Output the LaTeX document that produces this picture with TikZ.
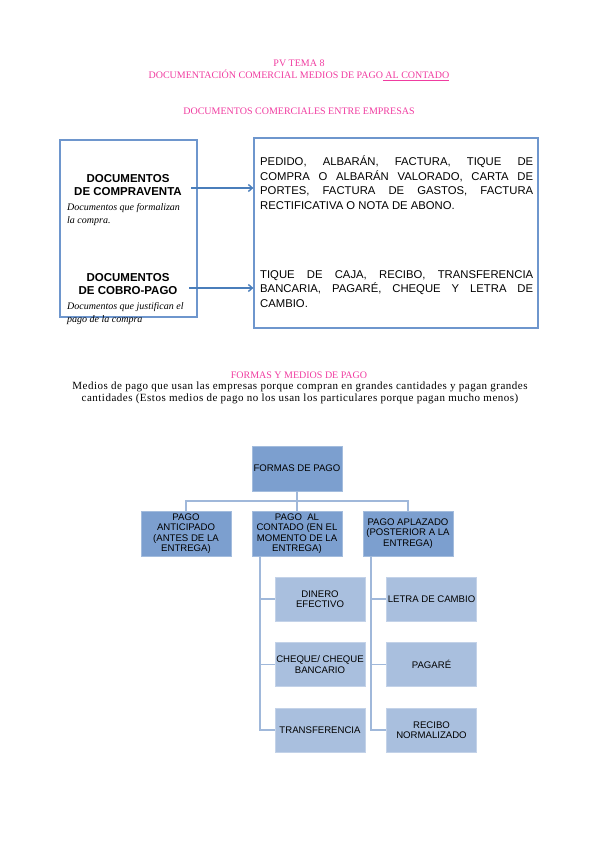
\documentclass[tikz,border=0pt]{standalone}
\usepackage{fontspec}
\setmainfont{Liberation Serif}
\setsansfont{Liberation Sans}
\usetikzlibrary{arrows.meta}
\definecolor{pinkt}{RGB}{240,60,160}
\definecolor{boxblue}{RGB}{110,150,205}
\definecolor{arrowblue}{RGB}{74,126,187}
\definecolor{midblue}{RGB}{124,159,207}
\definecolor{lightblue}{RGB}{169,191,222}
\definecolor{lineblue}{RGB}{160,184,218}
\tikzset{
  pinktxt/.style={text=pinkt, font=\fontsize{10}{12}\selectfont, inner sep=0pt},
  frame/.style={draw=boxblue, line width=1.2pt},
  bsans/.style={font=\fontsize{11.5}{13.5}\selectfont\sffamily\bfseries, align=center, inner sep=0pt},
  itnote/.style={font=\fontsize{10}{13}\selectfont\itshape, align=left, inner sep=0pt},
  rtext/.style={font=\fontsize{11.3}{14.5}\selectfont\sffamily, align=justify, text width=273pt, inner sep=0pt},
  arr/.style={draw=arrowblue, line width=1.4pt, -{Straight Barb[length=4pt,width=7pt]}},
  body/.style={font=\fontsize{11}{12}\selectfont\addfontfeature{LetterSpace=4.5}, align=center, inner sep=0pt},
  chart/.style={font=\fontsize{9.6}{10.3}\selectfont\sffamily, align=center, inner sep=0pt},
  topbox/.style={chart, fill=midblue, draw=midblue!70!white, line width=0.5pt, minimum width=90pt, minimum height=45pt},
  leaf/.style={chart, fill=lightblue, draw=lightblue!70!white, line width=0.5pt, minimum width=90pt, minimum height=44pt},
  tl/.style={draw=lineblue, line width=1.6pt},
}
\begin{document}
\begin{tikzpicture}[x=1pt,y=-1pt]
\useasboundingbox (0,0) rectangle (599,848);

% titles
\node[pinktxt] (t1) at (299,63) {PV TEMA 8};
\node[pinktxt] (t2) at (299,75) {DOCUMENTACIÓN COMERCIAL MEDIOS DE PAGO\underline{\ AL CONTADO}};
\node[pinktxt] (t3) at (299,111) {DOCUMENTOS COMERCIALES ENTRE EMPRESAS};

% boxes
\draw[frame] (60,140) rectangle (197,317);
\node[frame, inner sep=0pt, minimum width=284pt, minimum height=190pt] (rb) at (396,233) {};

\node[bsans] (dc1) at (128,185) {DOCUMENTOS\\DE COMPRAVENTA};
\node[itnote, anchor=north west] (n1) at (67,203) {Documentos que formalizan\\la compra.};
\node[bsans] (dc2) at (128,284) {DOCUMENTOS\\DE COBRO-PAGO};
\node[itnote, anchor=north west] (n2) at (67,302) {Documentos que justifican el\\pago de la compra};

\coordinate (a1) at (191,188);
\coordinate (a2) at (189,288);
\draw[arr] (a1) -- (a1 -| rb.west);
\draw[arr] (a2) -- (a2 -| rb.west);

\node[rtext, anchor=north west] (r1) at (260,156) {PEDIDO, ALBARÁN, FACTURA, TIQUE DE\linebreak COMPRA O ALBARÁN VALORADO, CARTA DE\linebreak PORTES, FACTURA DE GASTOS, FACTURA\linebreak RECTIFICATIVA O NOTA DE ABONO.};
\node[rtext, anchor=north west] (r2) at (260,270) {TIQUE DE CAJA, RECIBO, TRANSFERENCIA\linebreak BANCARIA, PAGARÉ, CHEQUE Y LETRA DE\linebreak CAMBIO.};

% section 2
\node[pinktxt] (t4) at (299,375) {FORMAS Y MEDIOS DE PAGO};
\node[body] (b1) at (300,393) {Medios de pago que usan las empresas porque compran en grandes cantidades y pagan grandes\\cantidades (Estos medios de pago no los usan los particulares porque pagan mucho menos)};

% chart
\node[topbox] (top) at (297,468.5) {FORMAS DE PAGO};
\node[topbox] (c1) at (186,533.5) {PAGO\\ANTICIPADO\\(ANTES DE LA\\ENTREGA)};
\node[topbox] (c2) at (297,533.5) {PAGO\ \ AL\\CONTADO (EN EL\\MOMENTO DE LA\\ENTREGA)};
\node[topbox] (c3) at (408,533.5) {PAGO APLAZADO\\(POSTERIOR A LA\\ENTREGA)};

\draw[tl] (top.south) -- ++(0,10) -| (c1.north);
\draw[tl] (top.south) -- ++(0,10) -| (c3.north);
\draw[tl] (top.south) -- (c2.north);

\node[leaf] (l11) at (320,599) {DINERO\\EFECTIVO};
\node[leaf] (l12) at (320,664.5) {CHEQUE/ CHEQUE\\BANCARIO};
\node[leaf] (l13) at (320,730) {TRANSFERENCIA};
\node[leaf] (l21) at (431.5,599) {LETRA DE CAMBIO};
\node[leaf] (l22) at (431.5,664.5) {PAGARÉ};
\node[leaf] (l23) at (431.5,730) {RECIBO\\NORMALIZADO};

\coordinate (v1) at ([xshift=8pt]c2.south west);
\coordinate (v2) at ([xshift=8pt]c3.south west);
\draw[tl] (v1) |- (l11.west);
\draw[tl] (v1) |- (l12.west);
\draw[tl] (v1) |- (l13.west);
\draw[tl] (v2) |- (l21.west);
\draw[tl] (v2) |- (l22.west);
\draw[tl] (v2) |- (l23.west);
\end{tikzpicture}
\end{document}
